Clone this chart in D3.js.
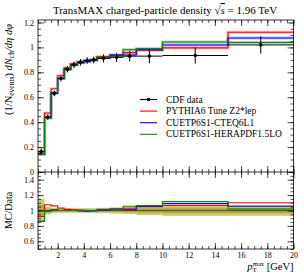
<!DOCTYPE html>
<html>
<head>
<meta charset="utf-8">
<script src="https://cdn.jsdelivr.net/npm/d3@7"></script>
<style>
  body { margin: 0; background: #fff; }
  svg { display: block; }
  text { font-family: "Liberation Serif", "DejaVu Serif", serif; fill: #000; }
</style>
</head>
<body>
<div id="chart"></div>
<script>
// bin edges of pT max [GeV]
const binLo = [0.5, 1, 1.5, 2, 2.5, 3, 3.5, 4, 4.5, 5, 6, 7, 8, 10, 15];
const binHi = [1, 1.5, 2, 2.5, 3, 3.5, 4, 4.5, 5, 6, 7, 8, 10, 15, 20];

// CDF data and total errors
const dataVal = [0.165, 0.44, 0.63, 0.75, 0.825, 0.86, 0.88, 0.895, 0.90, 0.912, 0.92, 0.93, 0.93, 0.935, 1.02];
const dataErr = [0.025, 0.022, 0.022, 0.022, 0.025, 0.026, 0.026, 0.027, 0.027, 0.032, 0.037, 0.042, 0.056, 0.065, 0.07];
const dataStat = [0.012, 0.01, 0.01, 0.01, 0.012, 0.012, 0.012, 0.013, 0.013, 0.016, 0.018, 0.02, 0.028, 0.032, 0.035];

// MC predictions
const pythiaZ2 = [0.152, 0.473, 0.668, 0.773, 0.837, 0.869, 0.884, 0.895, 0.90, 0.926, 0.938, 0.958, 0.977, 0.996, 1.122];
const cteq = [0.142, 0.436, 0.636, 0.75, 0.825, 0.86, 0.876, 0.886, 0.896, 0.917, 0.938, 0.939, 0.981, 1.019, 1.076];
const hera = [0.142, 0.436, 0.636, 0.75, 0.825, 0.86, 0.88, 0.895, 0.9, 0.921, 0.929, 0.981, 0.99, 1.043, 1.04];

const seriesNames = ["PYTHIA6 Tune Z2*lep", "CUETP6S1-CTEQ6L1", "CUETP6S1-HERAPDF1.5LO"];
const seriesColors = ["#ff0000", "#0000ff", "#008c00"];
const seriesBand = ["#ff9090", "#9090ff", "#80b080"];
const mcSeries = [pythiaZ2, cteq, hera];

const xTicks = [2, 4, 6, 8, 10, 12, 14, 16, 18, 20];
const yTicks = [0, 0.2, 0.4, 0.6, 0.8, 1, 1.2];
const rTicks = [0.6, 0.8, 1, 1.2, 1.4];

const W = 304, H = 274;
const pLeft = 38, pRight = 293.5, pTop = 20, pMid = 172, pBottom = 249;

const svg = d3.select("#chart").append("svg")
    .attr("width", W).attr("height", H);

const x = d3.scaleLinear().domain([0.5, 20]).range([pLeft, pRight]);
const y = d3.scaleLinear().domain([0, 1.22]).range([pMid, pTop]);
const yr = d3.scaleLinear().domain([0.5, 1.5]).range([pBottom, pMid]);

const bins = binLo.map((lo, i) => ({lo: lo, hi: binHi[i], v: dataVal[i], e: dataErr[i], s: dataStat[i]}));

// step path for a histogram
function stepPath(vals, ys) {
  let p = "";
  vals.forEach((v, i) => {
    const x0 = x(binLo[i]), x1 = x(binHi[i]), yy = ys(v);
    p += (i === 0 ? "M" + x0 + "," + yy : "V" + yy) + "H" + x1;
  });
  return p;
}

// ---------- ratio panel ----------
const gR = svg.append("g");
gR.selectAll("rect.tot").data(bins).join("rect")
    .attr("x", d => x(d.lo)).attr("width", d => x(d.hi) - x(d.lo))
    .attr("y", d => yr(1 + d.e / d.v)).attr("height", d => yr(1 - d.e / d.v) - yr(1 + d.e / d.v))
    .attr("fill", "#cfca6a");
gR.selectAll("rect.stat").data(bins).join("rect")
    .attr("x", d => x(d.lo)).attr("width", d => x(d.hi) - x(d.lo))
    .attr("y", d => yr(1 + d.s / d.v)).attr("height", d => yr(1 - d.s / d.v) - yr(1 + d.s / d.v))
    .attr("fill", "#aba646");
gR.append("line").attr("x1", pLeft).attr("x2", pRight)
    .attr("y1", yr(1)).attr("y2", yr(1))
    .attr("stroke", "#555520").attr("stroke-width", 1);

mcSeries.forEach((s, k) => {
  const ratios = s.map((v, i) => v / dataVal[i]);
  gR.append("path").attr("d", stepPath(ratios, yr))
      .attr("fill", "none").attr("stroke", seriesColors[k]).attr("stroke-width", 1.1);
});

// ---------- main panel ----------
const gM = svg.append("g");
mcSeries.forEach((s, k) => {
  gM.append("path").attr("d", stepPath(s, y))
      .attr("fill", "none").attr("stroke", seriesBand[k]).attr("stroke-opacity", 0.6)
      .attr("stroke-width", 3);
});
mcSeries.forEach((s, k) => {
  gM.append("path").attr("d", stepPath(s, y))
      .attr("fill", "none").attr("stroke", seriesColors[k]).attr("stroke-width", 1.1);
});

// data points
const gD = gM.append("g").attr("stroke", "#000").attr("stroke-width", 1);
gD.selectAll("line.h").data(bins).join("line")
    .attr("x1", d => x(d.lo)).attr("x2", d => x(d.hi))
    .attr("y1", d => y(d.v)).attr("y2", d => y(d.v));
gD.selectAll("line.v").data(bins).join("line")
    .attr("x1", d => x((d.lo + d.hi) / 2)).attr("x2", d => x((d.lo + d.hi) / 2))
    .attr("y1", d => y(d.v - d.e)).attr("y2", d => y(d.v + d.e));
gD.selectAll("circle").data(bins).join("circle")
    .attr("cx", d => x((d.lo + d.hi) / 2)).attr("cy", d => y(d.v))
    .attr("r", 1.8).attr("fill", "#000").attr("stroke", "none");

// ---------- axes ----------
const minorX = d3.range(0.5, 20.01, 0.5);
function axisG(axis, tx, ty) {
  const g = svg.append("g").attr("transform", `translate(${tx},${ty})`).call(axis);
  g.select(".domain").remove();
  g.selectAll("line").attr("stroke", "#000").attr("stroke-width", 0.7);
  g.selectAll("text").attr("font-size", 8).attr("font-family", "Liberation Serif, serif");
  return g;
}
const fmt = d => d3.format("~g")(d);

// main y
axisG(d3.axisLeft(y).tickValues(yTicks).tickSize(-6).tickPadding(4).tickFormat(fmt), pLeft, 0);
axisG(d3.axisLeft(y).tickValues(d3.range(0, 1.221, 0.05)).tickSize(-3).tickFormat(""), pLeft, 0);
axisG(d3.axisRight(y).tickValues(yTicks).tickSize(-6).tickFormat(""), pRight, 0);
axisG(d3.axisRight(y).tickValues(d3.range(0, 1.221, 0.05)).tickSize(-3).tickFormat(""), pRight, 0);
// main x top/bottom
[[d3.axisTop, pTop], [d3.axisBottom, pMid]].forEach(([ax, yy]) => {
  axisG(ax(x).tickValues(xTicks).tickSize(-6).tickFormat(""), 0, yy);
  axisG(ax(x).tickValues(minorX).tickSize(-3).tickFormat(""), 0, yy);
});
// ratio x top/bottom
axisG(d3.axisTop(x).tickValues(xTicks).tickSize(-6).tickFormat(""), 0, pMid);
axisG(d3.axisTop(x).tickValues(minorX).tickSize(-3).tickFormat(""), 0, pMid);
axisG(d3.axisBottom(x).tickValues(xTicks).tickSize(-6).tickPadding(3).tickFormat(fmt), 0, pBottom);
axisG(d3.axisBottom(x).tickValues(minorX).tickSize(-3).tickFormat(""), 0, pBottom);
// ratio y
axisG(d3.axisLeft(yr).tickValues(rTicks).tickSize(-6).tickPadding(4).tickFormat(fmt), pLeft, 0);
axisG(d3.axisLeft(yr).tickValues(d3.range(0.5, 1.501, 0.05)).tickSize(-3).tickFormat(""), pLeft, 0);
axisG(d3.axisRight(yr).tickValues(rTicks).tickSize(-6).tickFormat(""), pRight, 0);
axisG(d3.axisRight(yr).tickValues(d3.range(0.5, 1.501, 0.05)).tickSize(-3).tickFormat(""), pRight, 0);

// frames
svg.append("rect").attr("x", pLeft).attr("y", pTop).attr("width", pRight - pLeft).attr("height", pBottom - pTop)
    .attr("fill", "none").attr("stroke", "#000").attr("stroke-width", 0.8);
svg.append("line").attr("x1", pLeft).attr("x2", pRight).attr("y1", pMid).attr("y2", pMid)
    .attr("stroke", "#000").attr("stroke-width", 0.8);

// ---------- texts ----------
const title = svg.append("text").attr("x", 165).attr("y", 14).attr("text-anchor", "middle")
    .attr("font-size", 11);
title.append("tspan").text("TransMAX charged-particle density ");
title.append("tspan").text("√");
title.append("tspan").attr("font-style", "italic").style("text-decoration", "overline").text("s");
title.append("tspan").text(" = 1.96 TeV");

const yl = svg.append("text").attr("transform", `translate(12,24) rotate(-90)`)
    .attr("text-anchor", "end").attr("font-size", 10.5);
yl.append("tspan").text("(1/N");
yl.append("tspan").attr("font-size", 7.5).attr("dy", 2).text("events");
yl.append("tspan").attr("dy", -2).text(") ");
yl.append("tspan").attr("font-style", "italic").text("dN");
yl.append("tspan").attr("font-size", 7.5).attr("dy", 2).text("ch");
yl.append("tspan").attr("dy", -2).attr("font-style", "italic").text("/dη dφ");

svg.append("text").attr("transform", `translate(12,${yr(1)}) rotate(-90)`)
    .attr("text-anchor", "middle").attr("font-size", 10).text("MC/Data");

const xl = svg.append("text").attr("x", pRight).attr("y", 270).attr("text-anchor", "end")
    .attr("font-size", 10.5);
xl.append("tspan").attr("font-style", "italic").text("p");
xl.append("tspan").attr("font-size", 7).attr("dy", 2).text("T");
xl.append("tspan").attr("font-size", 6.5).attr("dx", -4).attr("dy", -6).text("max");
xl.append("tspan").attr("dy", 4).text(" [GeV]");

// ---------- legend ----------
const legNames = ["CDF data"].concat(seriesNames);
const legColors = ["#000"].concat(seriesColors);
const leg = svg.append("g");
legNames.forEach((n, i) => {
  const yy = 99.5 + i * 11.6;
  leg.append("line").attr("x1", 140).attr("x2", 157).attr("y1", yy).attr("y2", yy)
      .attr("stroke", legColors[i]).attr("stroke-width", 1.1);
  if (i === 0) leg.append("circle").attr("cx", 148.5).attr("cy", yy).attr("r", 1.8).attr("fill", "#000");
  leg.append("text").attr("x", 166).attr("y", yy + 3).attr("font-size", 9.5).text(n);
});
</script>
</body>
</html>
